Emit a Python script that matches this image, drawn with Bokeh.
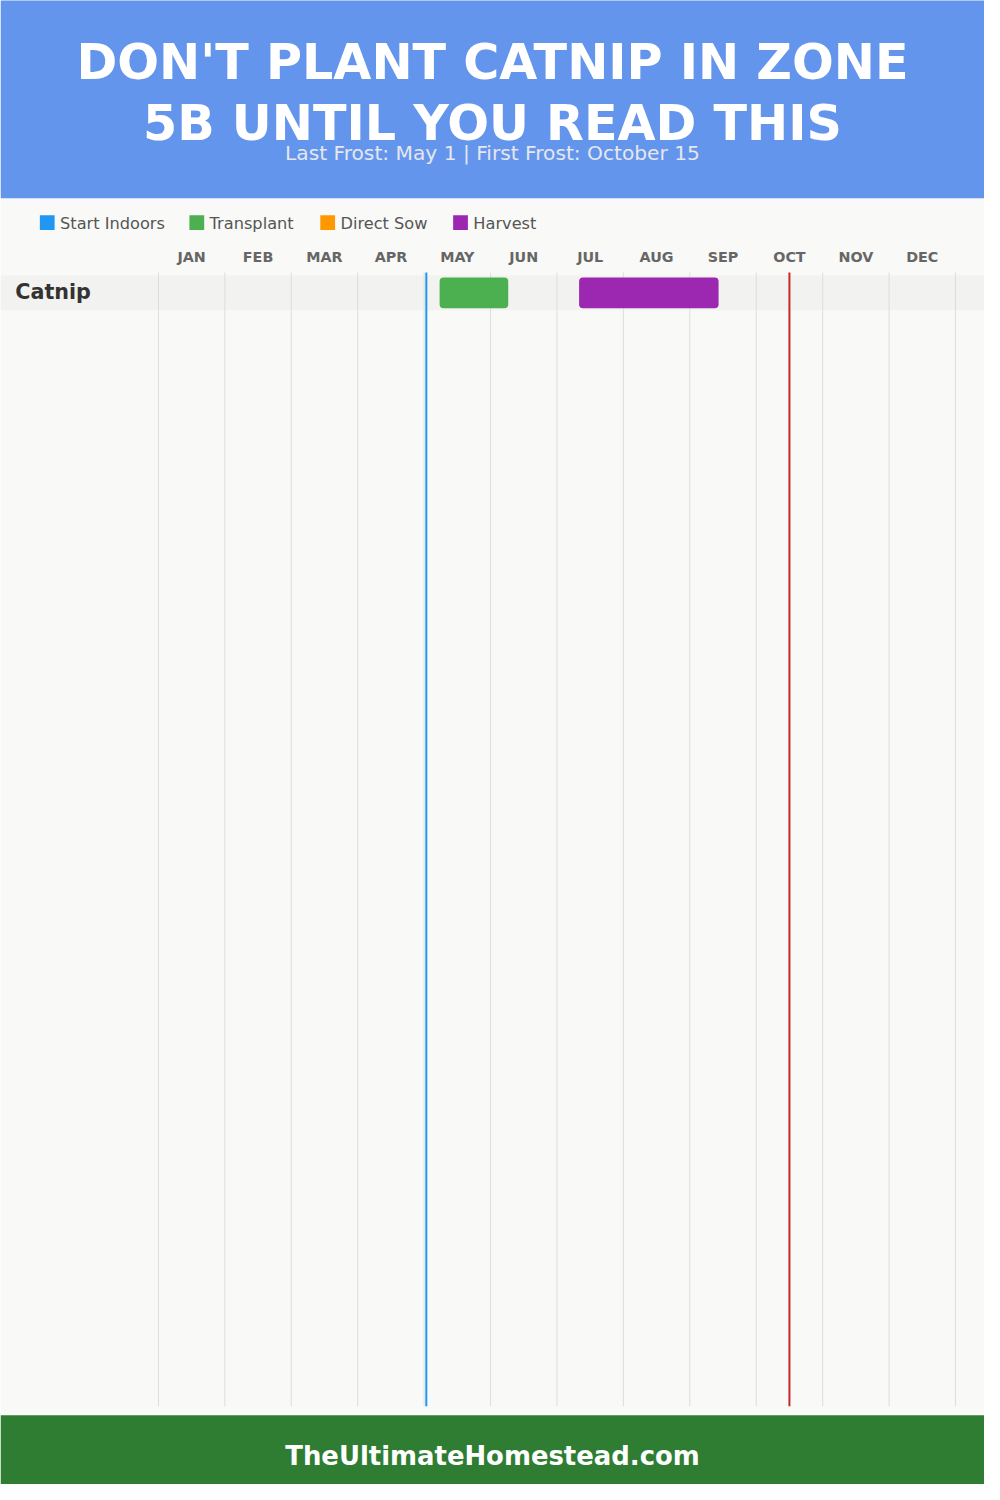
from bokeh.plotting import figure
from bokeh.models import Range1d, BoxAnnotation, ColumnDataSource
from bokeh.core.properties import value
from bokeh.embed import file_html
from bokeh.resources import INLINE

# ---------------- data ----------------
title_lines = ["DON'T PLANT CATNIP IN ZONE", "5B UNTIL YOU READ THIS"]
subtitle = "Last Frost: May 1 | First Frost: October 15"
footer = "TheUltimateHomestead.com"
months = ["JAN", "FEB", "MAR", "APR", "MAY", "JUN", "JUL", "AUG", "SEP", "OCT", "NOV", "DEC"]
crops = ["Catnip"]
legend_labels = ["Start Indoors", "Transplant", "Direct Sow", "Harvest"]
legend_colors = ["#2196F3", "#4CAF50", "#FF9800", "#9C27B0"]
last_frost = (5, 1)       # (month, day)
first_frost = (10, 15)
transplant_start = [(5, 7)]
transplant_end = [(6, 8)]
harvest_start = [(7, 10)]
harvest_end = [(9, 13)]


def mpos(md):
    m, d = md
    return (m - 1) + d / 30.0


# ---------------- layout helpers (reference pixel -> month units) ----------------
X0, MW = 160.5, 67.5
W, H = 984, 1484
S = W / 1000.0


def px(x):
    return (x - X0) / MW


def fs(v):
    return "%.1fpx" % (v * S)


p = figure(width=W, height=H, output_backend="svg", toolbar_location=None,
           x_range=Range1d(px(0), px(1000)), y_range=Range1d(1500, 0),
           x_axis_location=None, y_axis_location=None, min_border=0,
           background_fill_color="#F9F9F7", border_fill_color="#F9F9F7",
           outline_line_color=None)
p.grid.visible = False

# header / footer / row band
p.add_layout(BoxAnnotation(top=-10, bottom=200, fill_color="#6495ED", fill_alpha=1, line_color=None, level="underlay"))
p.add_layout(BoxAnnotation(top=1430, bottom=1510, fill_color="#2E7D32", fill_alpha=1, line_color=None, level="underlay"))
row_y = 295.5
p.add_layout(BoxAnnotation(top=row_y - 17.5, bottom=row_y + 17.5, fill_color="#F2F2F0", fill_alpha=1,
                           line_color=None, level="underlay"))

# title
p.text(x=[px(500)] * 2, y=[62.5, 124], text=title_lines, text_align="center", text_baseline="alphabetic",
       text_font=value("DejaVu Sans"), text_font_style="bold", text_font_size=fs(50), text_color="white")
p.text(x=[px(500)], y=[154.5], text=[subtitle], text_align="center", text_baseline="alphabetic",
       text_font=value("DejaVu Sans"), text_font_size=fs(20.5), text_color="#E4E7EE")

# legend
leg_x = [40, 192, 325, 460]
p.rect(x=[px(x + 7.5) for x in leg_x], y=[224.5] * 4, width=15 / MW, height=15,
       fill_color=legend_colors, line_color=None)
p.text(x=[px(x + 20.5) for x in leg_x], y=[225.5] * 4, text=legend_labels, text_baseline="alphabetic",
       text_font=value("DejaVu Sans"), text_font_size=fs(16.5), text_color="#555555")

# month labels & grid
p.text(x=[i + 0.5 for i in range(len(months))], y=[259] * 12, text=months, text_align="center",
       text_baseline="alphabetic", text_font=value("DejaVu Sans"), text_font_style="bold",
       text_font_size=fs(14.5), text_color="#666666")
p.segment(x0=list(range(13)), x1=list(range(13)), y0=[275] * 13, y1=[1421] * 13,
          line_color="#DDDDDD", line_width=1)

# crop label
p.text(x=[px(15)], y=[295], text=crops, text_baseline="alphabetic", text_font=value("DejaVu Sans"),
       text_font_style="bold", text_font_size=fs(21), text_color="#333333")

# bars
src = ColumnDataSource(dict(
    left=[mpos(d) for d in transplant_start] + [mpos(d) for d in harvest_start],
    right=[mpos(d) for d in transplant_end] + [mpos(d) for d in harvest_end],
    color=[legend_colors[1]] * len(transplant_start) + [legend_colors[3]] * len(harvest_start),
))
p.quad(left="left", right="right", top=row_y - 15.5, bottom=row_y + 15.5, fill_color="color",
       line_color=None, border_radius=4, source=src)

# frost lines
p.segment(x0=[mpos(last_frost)], x1=[mpos(last_frost)], y0=[275], y1=[1421], line_color="#2196F3", line_width=2)
p.segment(x0=[mpos(first_frost)], x1=[mpos(first_frost)], y0=[275], y1=[1421], line_color="#C62828", line_width=2)

# footer
p.text(x=[px(500)], y=[1471], text=[footer], text_align="center", text_baseline="alphabetic",
       text_font=value("DejaVu Sans"), text_font_style="bold", text_font_size=fs(26.3), text_color="white")

open("out.html", "w").write(file_html(p, INLINE))
